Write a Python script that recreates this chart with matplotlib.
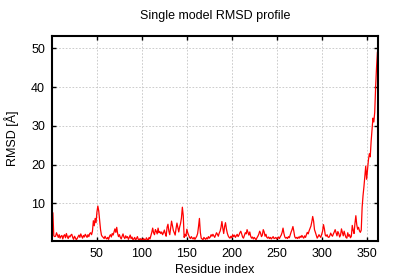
import matplotlib
matplotlib.use("Agg")
import matplotlib.pyplot as plt
import numpy as np

plt.rcParams['font.family'] = ['Liberation Sans', 'DejaVu Sans']

title = "Single model RMSD profile"
xlabel = "Residue index"
ylabel = "RMSD [Å]"
xticks = [50, 100, 150, 200, 250, 300, 350]
yticks = [10, 20, 30, 40, 50]

rmsd = [
    7.5, 1.6, 1.4, 1.5, 2.4, 1.8, 1.2, 1.9, 1.0, 1.5, 1.7, 0.8, 1.6, 1.9, 1.1, 2.2, 1.4, 0.9, 1.6, 1.3,
    1.8, 2.0, 1.2, 0.7, 1.5, 1.1, 0.6, 0.9, 1.4, 1.8, 1.2, 2.1, 1.5, 1.0, 1.7, 1.3, 2.0, 1.6, 1.2, 1.9,
    1.4, 2.2, 2.4, 1.9, 2.8, 5.5, 4.2, 6.1, 5.0, 7.8, 9.3, 8.0, 5.6, 3.2, 1.8, 1.4, 1.2, 0.9, 1.5, 1.0,
    0.8, 1.2, 0.7, 1.5, 1.9, 1.3, 2.2, 1.8, 2.6, 3.4, 2.5, 3.8, 2.2, 1.4, 1.9, 1.2, 0.8, 1.5, 2.1, 1.3,
    0.9, 1.6, 1.1, 1.4, 0.7, 1.2, 1.8, 0.9, 1.3, 0.6, 0.8, 1.2, 0.5, 0.9, 1.4, 0.7, 0.5, 0.9, 0.6, 0.8,
    0.5, 0.9, 0.6, 0.4, 1.1, 0.7, 0.5, 1.2, 0.8, 1.6, 2.5, 3.6, 2.4, 1.9, 3.2, 2.8, 2.1, 3.6, 2.4, 2.7,
    2.2, 2.6, 1.9, 2.4, 3.1, 2.2, 1.5, 3.8, 4.6, 2.8, 1.9, 3.6, 5.4, 4.2, 3.0, 2.4, 1.8, 3.5, 4.9, 3.8,
    2.6, 3.9, 4.8, 6.2, 9.0, 6.8, 1.2, 2.0, 1.5, 3.3, 2.4, 1.8, 1.2, 0.9, 1.4, 1.0, 0.8, 1.2, 0.7, 1.1,
    1.5, 2.2, 4.0, 6.1, 2.5, 1.0, 0.8, 0.6, 1.2, 0.9, 0.7, 1.1, 0.8, 1.4, 1.0, 1.3, 1.9, 1.5, 2.0, 1.6,
    1.2, 1.8, 2.4, 2.0, 1.5, 2.3, 2.8, 3.8, 5.3, 3.6, 2.2, 4.0, 5.0, 3.4, 2.3, 1.6, 1.2, 1.0, 1.5, 1.1,
    1.9, 1.4, 1.8, 1.2, 1.6, 2.0, 1.4, 1.8, 2.4, 2.8, 2.1, 1.3, 1.0, 1.7, 2.4, 2.1, 3.2, 2.5, 1.8, 2.6,
    1.5, 1.0, 1.3, 0.8, 1.2, 0.9, 0.6, 1.1, 1.5, 2.0, 2.8, 2.3, 1.4, 1.8, 3.2, 2.6, 1.5, 2.0, 1.2, 1.0,
    1.3, 0.9, 1.2, 0.8, 1.1, 1.4, 0.9, 1.0, 1.2, 0.8, 1.0, 1.3, 0.9, 1.4, 1.8, 2.5, 3.6, 2.2, 1.3, 1.0,
    1.2, 0.9, 1.4, 1.1, 1.9, 2.6, 3.2, 4.0, 2.8, 1.4, 1.0, 1.2, 0.9, 1.3, 1.0, 1.5, 1.2, 1.7, 1.3, 1.0,
    1.6, 1.2, 1.9, 2.5, 2.1, 2.9, 3.5, 4.1, 5.2, 6.6, 5.4, 3.2, 2.5, 1.7, 1.0, 1.4, 1.9, 1.5, 1.2, 2.0,
    2.8, 4.5, 3.4, 1.8, 1.5, 1.9, 1.3, 1.2, 1.6, 2.3, 1.8, 1.5, 2.1, 2.6, 3.2, 2.4, 1.6, 2.7, 2.2, 1.3,
    1.8, 3.4, 2.5, 1.6, 2.8, 1.9, 1.2, 1.0, 2.4, 1.5, 1.9, 1.1, 1.5, 4.3, 3.0, 2.2, 4.8, 6.8, 4.5, 3.3,
    3.8, 2.9, 2.5, 3.1, 9.0, 12.0, 14.3, 16.9, 19.6, 16.2, 18.6, 21.2, 22.8, 22.0, 26.0, 29.0, 32.0,
    31.0, 33.5, 40.0, 45.0, 49.0, 50.0,
]
residues = list(range(1, len(rmsd) + 1))

fig = plt.figure(figsize=(4.0, 2.8), dpi=100)
ax = fig.add_axes([0.13, 0.1404, 0.8158, 0.731])

ax.plot(residues, rmsd, color='#ff0000', linewidth=0.9)

ax.set_xlim(0, 363)
ax.set_ylim(0.35, 53.2)
ax.set_xticks(xticks)
ax.set_yticks(yticks)

ax.grid(True, color='#c4c4c4', linestyle=(0, (2, 2)), linewidth=0.6)
ax.set_axisbelow(True)
for s in ax.spines.values():
    s.set_linewidth(1.5)
    s.set_color('black')
ax.tick_params(direction='in', top=True, right=True, length=3.0, width=1.0,
               labelsize=9, pad=5)

fig.text(0.5375, 1 - 16 / 280, title, ha='center', va='center', fontsize=9)
fig.text(0.5375, 1 - 270 / 280, xlabel, ha='center', va='center', fontsize=9)
fig.text(12 / 400, 1 - 138 / 280, ylabel, ha='center', va='center', rotation=90, fontsize=9)

fig.savefig('out.png', dpi=100)
